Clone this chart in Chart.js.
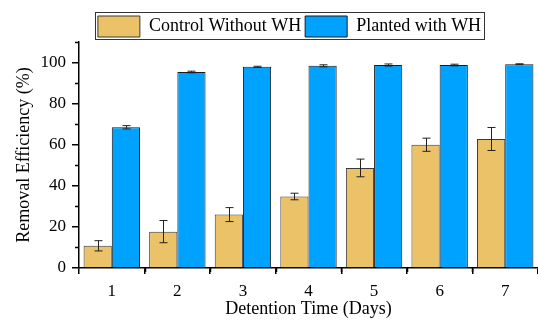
<!DOCTYPE html>
<html>
<head>
<meta charset="utf-8">
<script src="https://cdn.jsdelivr.net/npm/chart.js@4.4.1/dist/chart.umd.min.js"></script>
<style>
  html, body { margin: 0; padding: 0; background: #fff; overflow: hidden; }
  #wrap { width: 538px; height: 321px; }
</style>
</head>
<body>
<div id="wrap"><canvas id="chart"></canvas></div>
<script>
const days = ["1", "2", "3", "4", "5", "6", "7"];
const controlValues = [10.8, 17.7, 26.0, 34.8, 48.7, 60.0, 62.8];
const controlErrors = [2.5, 5.4, 3.4, 1.6, 4.3, 3.2, 5.6];
const plantedValues = [68.5, 95.4, 97.9, 98.4, 98.8, 98.8, 99.2];
const plantedErrors = [0.8, 0.4, 0.3, 0.5, 0.5, 0.4, 0.2];
const yMinorTicks = [10, 30, 50, 70, 90, 110];

const serif = "'Liberation Serif', 'Times New Roman', serif";

// error bars + minor axis ticks + legend frame
const extras = {
  id: "extras",
  afterLayout(chart) {
    // legend sits a bit right of centre and lower in the original
    const lg = chart.legend;
    lg.left += 14; lg.right += 14;
    lg.top += 5; lg.bottom += 5;
  },
  afterDatasetsDraw(chart) {
    const ctx = chart.ctx;
    const y = chart.scales.y;
    const errs = [controlErrors, plantedErrors];
    ctx.save();
    ctx.strokeStyle = "#222";
    ctx.lineWidth = 1;
    chart.data.datasets.forEach((ds, i) => {
      chart.getDatasetMeta(i).data.forEach((bar, j) => {
        const v = ds.data[j];
        const e = errs[i][j];
        const top = y.getPixelForValue(v + e);
        const bot = y.getPixelForValue(v - e);
        const x = Math.round(bar.x) + 0.5;
        ctx.beginPath();
        ctx.moveTo(x, top); ctx.lineTo(x, bot);
        ctx.moveTo(x - 4, top); ctx.lineTo(x + 4, top);
        ctx.moveTo(x - 4, bot); ctx.lineTo(x + 4, bot);
        ctx.stroke();
      });
    });
    ctx.restore();
  },
  afterDraw(chart) {
    const ctx = chart.ctx;
    const x = chart.scales.x;
    const y = chart.scales.y;
    const area = chart.chartArea;
    ctx.save();
    ctx.strokeStyle = "#000";
    ctx.lineWidth = 1.5;
    ctx.beginPath();
    yMinorTicks.forEach(v => {
      const py = Math.round(y.getPixelForValue(v)) + 0.5;
      ctx.moveTo(area.left - 4, py); ctx.lineTo(area.left, py);
    });
    for (let i = 0; i < days.length - 1; i++) {
      const px = Math.round((x.getPixelForValue(i) + x.getPixelForValue(i + 1)) / 2) + 0.5;
      ctx.moveTo(px, area.bottom); ctx.lineTo(px, area.bottom + 4);
    }
    ctx.stroke();
    const boxes = chart.legend.legendHitBoxes;
    const first = boxes[0];
    const last = boxes[boxes.length - 1];
    const l = Math.round(first.left) - 2.5;
    const r = Math.round(last.left + last.width) + 3.5;
    const t = Math.round(first.top) - 3.5;
    const b = Math.round(first.top + first.height) + 2.5;
    ctx.lineWidth = 1;
    ctx.strokeStyle = "#333";
    ctx.strokeRect(l, t, r - l, b - t);
    ctx.restore();
  }
};

new Chart(document.getElementById("chart"), {
  type: "bar",
  data: {
    labels: days,
    datasets: [{
      label: "Control Without WH",
      data: controlValues,
      backgroundColor: "#EBC267",
      borderColor: "#3a3a3a",
      borderWidth: 1,
      categoryPercentage: 0.86,
      barPercentage: 1.0
    }, {
      label: "Planted with WH",
      data: plantedValues,
      backgroundColor: "#00A2FF",
      borderColor: "#1a1a1a",
      borderWidth: 1,
      categoryPercentage: 0.86,
      barPercentage: 1.0
    }]
  },
  options: {
    responsive: true,
    maintainAspectRatio: false,
    animation: false,
    layout: { padding: { top: 7, right: 0, left: 13, bottom: 1 } },
    plugins: {
      tooltip: { enabled: false },
      legend: {
        position: "top",
        align: "center",
        labels: {
          color: "#000",
          font: { family: serif, size: 18 },
          boxWidth: 42,
          boxHeight: 21,
          padding: 4,
          useBorderRadius: false
        }
      }
    },
    scales: {
      x: {
        grid: { display: true, drawOnChartArea: false, tickLength: 6, color: "#000", lineWidth: 1.5 },
        border: { display: true, color: "#000", width: 1.5 },
        ticks: { color: "#000", font: { family: serif, size: 17 }, padding: 7 },
        title: { display: true, text: "Detention Time (Days)", color: "#000", font: { family: serif, size: 18 }, padding: 0 },
        afterFit(scale) { scale.height = 52; }
      },
      y: {
        min: 0,
        max: 110,
        grid: { display: true, drawOnChartArea: false, tickLength: 7, color: "#000", lineWidth: 1.5 },
        border: { display: true, color: "#000", width: 1.5 },
        ticks: { stepSize: 20, includeBounds: false, color: "#000", font: { family: serif, size: 17 }, padding: 6 },
        title: { display: true, text: "Removal Efficiency (%)", color: "#000", font: { family: serif, size: 18 }, padding: 0 },
        afterFit(scale) { scale.width = 66; }
      }
    }
  },
  plugins: [extras]
});
</script>
</body>
</html>
